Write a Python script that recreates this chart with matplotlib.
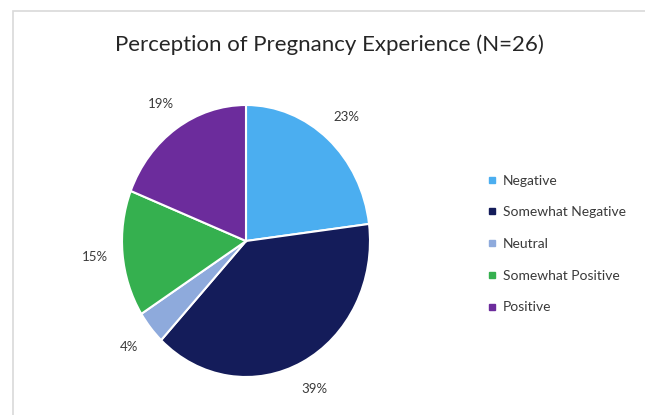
import matplotlib
matplotlib.use("Agg")
import matplotlib.pyplot as plt
from matplotlib.patches import Rectangle
from matplotlib.lines import Line2D

# Share of respondents (%), N=26
categories = ["Negative", "Somewhat Negative", "Neutral", "Somewhat Positive", "Positive"]
percents = [23, 39, 4, 15, 19]
colors = ["#4baef0", "#141c5a", "#8eaadc", "#35b04f", "#6c2c9c"]
title = "Perception of Pregnancy Experience (N=26)"

plt.rcParams['font.family'] = ['Lato', 'DejaVu Sans']

fig = plt.figure(figsize=(6.45, 4.15), dpi=100)
W, H = 645, 415

# light chart frame
fig.patches.append(Rectangle((13 / W, -0.1), 1.2, 1 - 11 / H + 0.1,
                             transform=fig.transFigure, fill=False,
                             edgecolor="#d9d9d9", linewidth=1.2))

# pie is slightly stretched vertically in the reference
ax = fig.add_axes([122 / W, (H - 377) / H, 248 / W, 272 / H])
wedges, texts, autotexts = ax.pie(
    percents, colors=colors, startangle=90, counterclock=False,
    autopct=lambda p: f"{p:.0f}%", pctdistance=1.22,
    wedgeprops=dict(edgecolor="white", linewidth=1.5),
    textprops=dict(fontsize=9.5, color="#3a3a3a"))
ax.set_aspect("auto")
ax.set_xlim(-1, 1)
ax.set_ylim(-1, 1)

fig.text(329 / W, 1 - 45 / H, title, ha="center", va="center",
         fontsize=16, color="#262626")

handles = [Line2D([], [], marker="s", linestyle="none", markersize=4.5,
                  markerfacecolor=c, markeredgecolor=c) for c in colors]
fig.legend(handles, categories, loc="upper left",
           bbox_to_anchor=(475 / W, 1 - 162 / H), frameon=False,
           fontsize=10, labelcolor="#3a3a3a", handlelength=0.6,
           handletextpad=0.5, labelspacing=1.42)

fig.savefig("out.png", dpi=100)
